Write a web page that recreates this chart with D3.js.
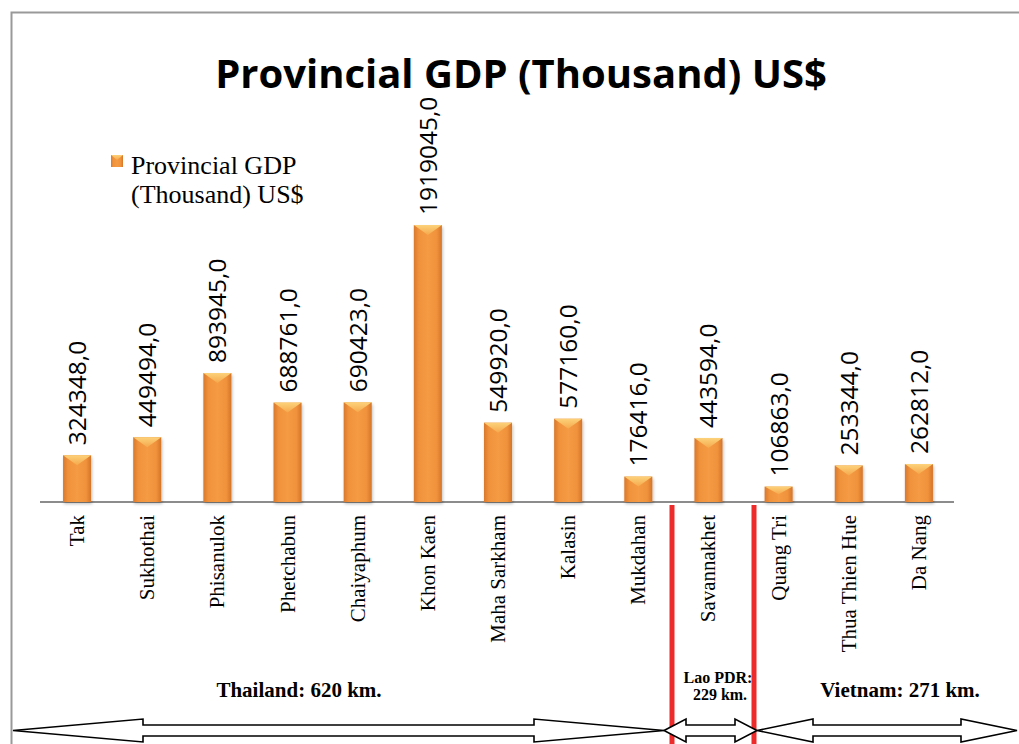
<!DOCTYPE html>
<html>
<head>
<meta charset="utf-8">
<script src="https://cdn.jsdelivr.net/npm/d3@7"></script>
<style>
  body { margin: 0; background: #fff; }
  svg { display: block; }
</style>
</head>
<body>
<div id="chart"></div>
<script>
// data
const provinces = ["Tak", "Sukhothai", "Phisanulok", "Phetchabun", "Chaiyaphum", "Khon Kaen",
  "Maha Sarkham", "Kalasin", "Mukdahan", "Savannakhet", "Quang Tri", "Thua Thien Hue", "Da Nang"];
const gdp = [324348, 449494, 893945, 688761, 690423, 1919045, 549920, 577160, 176416, 443594, 106863, 253344, 262812];
const seriesName = "Provincial GDP (Thousand) US$";
const segments = [
  { label: ["Thailand: 620 km."], from: 13, to: 664, head: 130 },
  { label: ["Lao PDR:", "229 km."], from: 664, to: 757, head: 22 },
  { label: ["Vietnam: 271 km."], from: 757, to: 1017, head: 56 }
];
const borders = [672, 754];

const width = 1019, height = 744;
const baseY = 502;

const svg = d3.select("#chart").append("svg")
  .attr("width", width)
  .attr("height", height);

const defs = svg.append("defs");
const body = defs.append("linearGradient").attr("id", "barBody").attr("x1", 0).attr("x2", 1).attr("y1", 0).attr("y2", 0);
body.append("stop").attr("offset", "0%").attr("stop-color", "#d9782b");
body.append("stop").attr("offset", "18%").attr("stop-color", "#f0923c");
body.append("stop").attr("offset", "50%").attr("stop-color", "#f59b44");
body.append("stop").attr("offset", "82%").attr("stop-color", "#f0923c");
body.append("stop").attr("offset", "100%").attr("stop-color", "#d47428");
const cap = defs.append("linearGradient").attr("id", "barCap").attr("x1", 0).attr("x2", 0).attr("y1", 0).attr("y2", 1);
cap.append("stop").attr("offset", "0%").attr("stop-color", "#fcd27a");
cap.append("stop").attr("offset", "100%").attr("stop-color", "#f6a84c");
const shadow = defs.append("filter").attr("id", "shadow").attr("x", "-30%").attr("y", "-10%").attr("width", "160%").attr("height", "130%");
shadow.append("feDropShadow").attr("dx", 1).attr("dy", 2).attr("stdDeviation", 1.5).attr("flood-color", "#000").attr("flood-opacity", 0.25);

// frame
svg.append("path")
  .attr("d", `M11.5,${height} V12.5 H${width}`)
  .attr("fill", "none").attr("stroke", "#999").attr("stroke-width", 2);

// title
svg.append("text")
  .attr("x", 521).attr("y", 88)
  .attr("text-anchor", "middle")
  .style("font-family", "'Open Sans', sans-serif")
  .style("font-weight", "bold")
  .style("font-size", "40px")
  .text(seriesName);

const x = d3.scaleBand()
  .domain(provinces)
  .range([42, 954])
  .paddingInner(0.6)
  .paddingOuter(0.3);

const y = d3.scaleLinear()
  .domain([0, 2000000])
  .range([baseY, baseY - 288.6]);

const fmt = d3.formatLocale({ decimal: ",", thousands: "", grouping: [3] }).format(".1f");

// axis line
svg.append("line")
  .attr("x1", 40).attr("x2", 954)
  .attr("y1", baseY).attr("y2", baseY)
  .attr("stroke", "#8c8c8c").attr("stroke-width", 2);

const bars = svg.append("g").selectAll("g")
  .data(provinces.map((p, i) => ({ name: p, value: gdp[i] })))
  .join("g");

bars.append("rect")
  .attr("x", d => x(d.name))
  .attr("y", d => y(d.value))
  .attr("width", x.bandwidth())
  .attr("height", d => baseY - y(d.value))
  .attr("fill", "url(#barBody)")
  .attr("filter", "url(#shadow)");

bars.append("path")
  .attr("d", d => {
    const x0 = x(d.name), x1 = x0 + x.bandwidth(), t = y(d.value);
    const depth = Math.min(10, (baseY - t) / 2);
    return `M${x0},${t} L${x1},${t} L${x0 + x.bandwidth() / 2},${t + depth} Z`;
  })
  .attr("fill", "url(#barCap)");

// value labels
bars.append("text")
  .attr("transform", d => `translate(${x(d.name) + x.bandwidth() / 2 + 9},${y(d.value) - 10}) rotate(-90)`)
  .style("font-family", "'Open Sans', sans-serif")
  .style("font-size", "24.5px")
  .attr("fill", "#000")
  .text(d => fmt(d.value));

// category labels
svg.append("g").selectAll("text")
  .data(provinces)
  .join("text")
  .attr("transform", d => `translate(${x(d) + x.bandwidth() / 2 + 7},515) rotate(-90)`)
  .attr("text-anchor", "end")
  .style("font-family", "'Liberation Serif', serif")
  .style("font-size", "21px")
  .text(d => d);

// legend
const legend = svg.append("g").attr("transform", "translate(111,155)");
legend.append("rect").attr("width", 12).attr("height", 12).attr("fill", "url(#barBody)");
legend.append("path").attr("d", "M0,0 L12,0 L6,5 Z").attr("fill", "url(#barCap)");
legend.append("text")
  .attr("x", 20).attr("y", 19)
  .style("font-family", "'Liberation Serif', serif")
  .style("font-size", "26px")
  .selectAll("tspan")
  .data(["Provincial GDP", "(Thousand) US$"])
  .join("tspan")
  .attr("x", 20)
  .attr("dy", (d, i) => i ? 29 : 0)
  .text(d => d);

// country borders
svg.append("g").selectAll("line")
  .data(borders)
  .join("line")
  .attr("x1", d => d).attr("x2", d => d)
  .attr("y1", 505).attr("y2", height)
  .attr("stroke", "#ee2b2b").attr("stroke-width", 5);

// distance arrows
const cy = 730.5, hh = 11.5, sh = 5.5;
const arrows = svg.append("g");
arrows.selectAll("path")
  .data(segments)
  .join("path")
  .attr("d", s => {
    const a = s.from, b = s.to, h = s.head;
    return `M${a},${cy} L${a + h},${cy - hh} L${a + h},${cy - sh} L${b - h},${cy - sh} L${b - h},${cy - hh} L${b},${cy}` +
      ` L${b - h},${cy + hh} L${b - h},${cy + sh} L${a + h},${cy + sh} L${a + h},${cy + hh} Z`;
  })
  .attr("fill", "#fff")
  .attr("stroke", "#000")
  .attr("stroke-width", 1.6)
  .attr("stroke-linejoin", "miter");

// distance labels
const lab = svg.append("g")
  .style("font-family", "'Liberation Serif', serif")
  .style("font-weight", "bold");
lab.append("text").attr("x", 299).attr("y", 697).attr("text-anchor", "middle").style("font-size", "21px").text(segments[0].label[0]);
lab.append("text").attr("x", 900).attr("y", 697).attr("text-anchor", "middle").style("font-size", "21px").text(segments[2].label[0]);
lab.append("text").attr("x", 718).attr("y", 683).attr("text-anchor", "middle").style("font-size", "16px").text(segments[1].label[0]);
lab.append("text").attr("x", 720).attr("y", 700).attr("text-anchor", "middle").style("font-size", "16px").text(segments[1].label[1]);
</script>
</body>
</html>
